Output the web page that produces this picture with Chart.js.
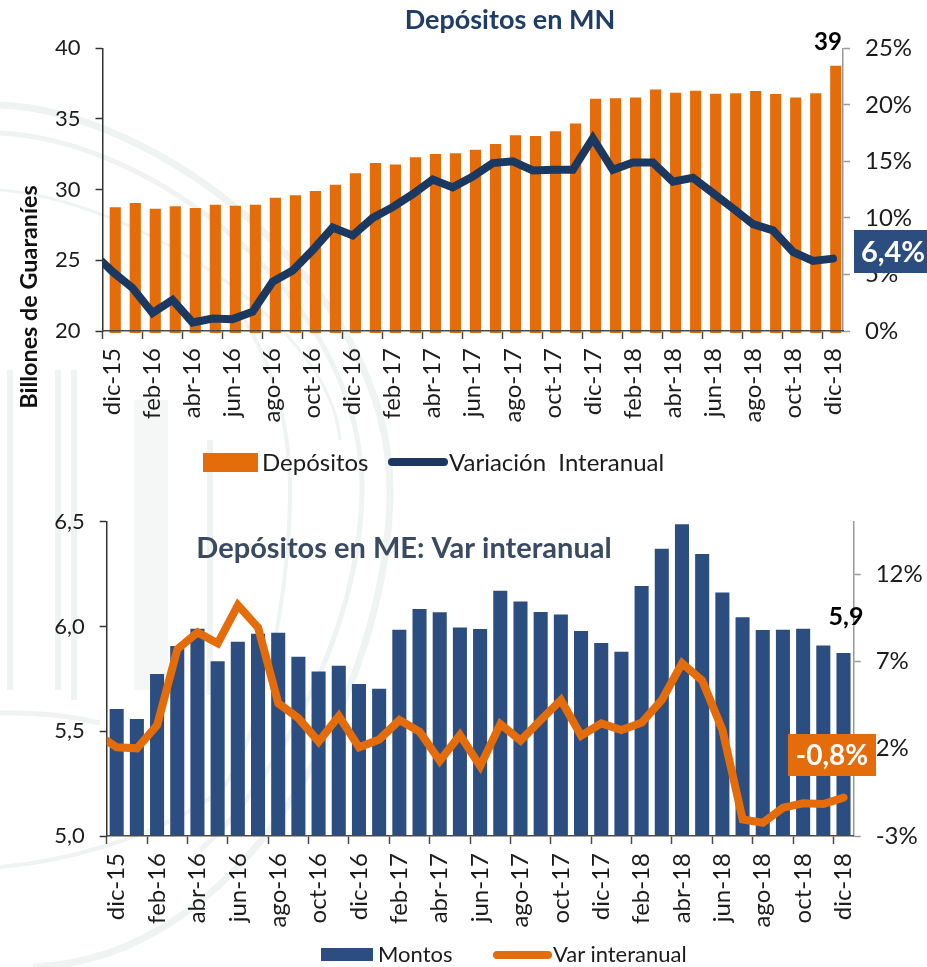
<!DOCTYPE html>
<html>
<head>
<meta charset="utf-8">
<script src="https://cdn.jsdelivr.net/npm/chart.js@4/dist/chart.umd.min.js"></script>
<style>
  html, body { margin: 0; padding: 0; background: #fff; overflow: hidden; }
  #page { position: relative; width: 927px; height: 967px; font-family: Lato, sans-serif; color: #1c1c1c; }
  #seal { position: absolute; left: 0; top: 0; }
  canvas { position: absolute; left: 0; }
  .leg { position: absolute; font-size: 24px; line-height: 28px; white-space: pre; }
  .leg.small { font-size: 22px; }
  .swatch { position: absolute; }
</style>
</head>
<body>
<div id="page">
  <svg id="seal" width="927" height="967" fill="none" stroke="#eff3f2">
    <path d="M0 105C150 110 390 280 390 490C390 680 250 960 33 967" stroke-width="7"/>
    <path d="M0 133C150 140 355 290 362 480C365 640 260 800 200 850" stroke-width="5"/>
    <path d="M0 190C130 200 330 320 340 440" stroke-width="3"/>
    <path d="M0 867C60 862 150 840 215 795C250 770 290 620 290 490C290 420 270 350 230 300" stroke-width="4"/>
    <path d="M0 713C40 712 70 716 100 723" stroke-width="5"/>
    <path d="M10 370V690M58 370V690M74 370V700M210 440V695" stroke-width="6"/>
    <path d="M151 400V690" stroke-width="34" stroke="#f5f7f6"/>
  </svg>
  <canvas id="chartMN" width="927" height="490" style="top:0"></canvas>
  <canvas id="chartME" width="927" height="477" style="top:490px"></canvas>

  <div class="swatch" style="left:203px;top:453px;width:55px;height:19px;background:#e46c0a"></div>
  <div class="leg" style="left:262px;top:448px">Depósitos</div>
  <div class="swatch" style="left:388px;top:458px;width:60px;height:8px;border-radius:4px;background:#1a3860"></div>
  <div class="leg" style="left:449px;top:448px">Variación  Interanual</div>

  <div class="swatch" style="left:321px;top:948px;width:52px;height:13px;background:#2c4d80"></div>
  <div class="leg small" style="left:378px;top:940px">Montos</div>
  <div class="swatch" style="left:493px;top:951px;width:59px;height:8px;border-radius:4px;background:#e46c0a"></div>
  <div class="leg small" style="left:553px;top:940px">Var interanual</div>
</div>

<script>
const months = [
  'dic-15', 'ene-16', 'feb-16', 'mar-16', 'abr-16', 'may-16', 'jun-16', 'jul-16', 'ago-16', 'sep-16', 'oct-16', 'nov-16',
  'dic-16', 'ene-17', 'feb-17', 'mar-17', 'abr-17', 'may-17', 'jun-17', 'jul-17', 'ago-17', 'sep-17', 'oct-17', 'nov-17',
  'dic-17', 'ene-18', 'feb-18', 'mar-18', 'abr-18', 'may-18', 'jun-18', 'jul-18', 'ago-18', 'sep-18', 'oct-18', 'nov-18',
  'dic-18'
];

// Depositos en MN
const depositosMN = [
  28.73, 29.03, 28.63, 28.8, 28.68, 28.9, 28.84, 28.9, 29.4, 29.58, 29.88, 30.33,
  31.13, 31.86, 31.75, 32.26, 32.5, 32.55, 32.8, 33.2, 33.82, 33.77, 34.1, 34.65,
  36.4, 36.44, 36.5, 37.07, 36.84, 36.98, 36.77, 36.8, 36.96, 36.75, 36.5, 36.8,
  38.75
];
const variacionMN = [
  5.25, 3.8, 1.6, 2.75, 0.75, 1.1, 1.05, 1.7, 4.35, 5.35, 7.15, 9.15,
  8.45, 10, 10.95, 12.1, 13.4, 12.7, 13.65, 14.85, 15, 14.2, 14.25, 14.25,
  17.05, 14.25, 14.9, 14.9, 13.2, 13.55, 12.2, 10.85, 9.45, 8.9, 7, 6.2,
  6.4
];
const variacionMNprev = 6.1; // the line comes in from the left edge

// Depositos en ME
const montosME = [
  5.604, 5.557, 5.771, 5.905, 5.988, 5.833, 5.926, 5.964, 5.969, 5.854, 5.783, 5.811,
  5.724, 5.701, 5.983, 6.082, 6.066, 5.993, 5.986, 6.169, 6.117, 6.067, 6.056, 5.977,
  5.919, 5.878, 6.191, 6.369, 6.486, 6.344, 6.161, 6.042, 5.981, 5.983, 5.988, 5.907,
  5.872
];
const varME = [
  2.08, 2.02, 3.35, 7.7, 8.66, 8.03, 10.22, 8.93, 4.6, 3.74, 2.4, 3.87,
  2.08, 2.53, 3.64, 2.97, 1.31, 2.78, 1.0, 3.41, 2.46, 3.64, 4.79, 2.74,
  3.45, 3.07, 3.49, 4.79, 6.89, 5.89, 3.07, -2.05, -2.24, -1.38, -1.13, -1.17,
  -0.8
];
const varMEprev = 2.46;

const ticksLeftMN = [20, 25, 30, 35, 40];
const ticksRightMN = [0, 5, 10, 15, 20, 25];
const ticksLeftME = [5, 5.5, 6, 6.5];
const ticksRightME = [-3, 2, 7, 12];

const ORANGE = '#e46c0a';
const NAVY = '#1a3860';
const BLUE = '#2c4d80';
const FONT = 'Lato, sans-serif';

const xTickValues = months.map((m, i) => i).filter(i => i % 2 === 0).map(i => i - 0.5);

function setTicks(list) {
  return scale => { scale.ticks = list.map(value => ({ value })); };
}
function setSize(prop, size) {
  return scale => { scale[prop] = size; };
}
function xyPoints(values) {
  return values.map((y, i) => ({ x: i, y }));
}
function linePoints(prev, values) {
  return [{ x: -0.5, y: prev }].concat(xyPoints(values));
}

// titles and callouts on top of the chart
function overlay(items) {
  return {
    id: 'overlay',
    afterDraw(chart) {
      const c = chart.ctx;
      c.save();
      items.forEach(it => {
        if (it.box) {
          c.fillStyle = it.box;
          c.fillRect(it.bx, it.by, it.bw, it.bh);
        }
        c.save();
        c.translate(it.x, it.y);
        if (it.rot) c.rotate(it.rot);
        c.font = it.font;
        c.fillStyle = it.color;
        c.textAlign = 'center';
        c.textBaseline = 'middle';
        c.fillText(it.text, 0, 0);
        c.restore();
      });
      c.restore();
    }
  };
}

function scalesFor(o) {
  return {
    x: {
      type: 'linear',
      offset: false,
      min: -0.5,
      max: 36.5,
      afterBuildTicks: setTicks(xTickValues),
      afterFit: setSize('height', o.xHeight),
      border: { color: '#4a4a4a', width: 1.5, z: 1 },
      grid: { offset: false, drawOnChartArea: false, drawTicks: true, tickLength: 8, tickColor: '#4a4a4a', tickWidth: 1.5 },
      ticks: {
        autoSkip: false,
        minRotation: 90,
        maxRotation: 90,
        padding: 9,
        labelOffset: 10,
        color: '#1c1c1c',
        font: { family: FONT, size: 24 },
        callback: v => months[v + 0.5]
      }
    },
    // with a fixed barThickness the value pixel is the bar's left edge, this axis lines that up
    xBar: {
      type: 'linear',
      offset: false,
      display: false,
      min: -0.5 - o.barShift,
      max: 36.5 - o.barShift
    },
    y: {
      position: 'left',
      min: o.leftTicks[0],
      max: o.leftTicks[o.leftTicks.length - 1],
      afterBuildTicks: setTicks(o.leftTicks),
      afterFit: setSize('width', o.left),
      border: { color: '#333', width: 1.5 },
      grid: { drawOnChartArea: false, tickLength: 7, tickColor: '#333', tickWidth: 1.5 },
      ticks: { padding: 15, color: '#1c1c1c', font: { family: FONT, size: 22 }, callback: o.leftFormat }
    },
    y1: {
      position: 'right',
      min: o.rightMin,
      max: o.rightMax,
      afterBuildTicks: setTicks(o.rightTicks),
      afterFit: setSize('width', o.right),
      border: { color: '#999', width: 1.5 },
      grid: { drawOnChartArea: false, tickLength: 7, tickColor: '#999', tickWidth: 1.5 },
      ticks: { padding: 15, color: '#1c1c1c', font: { family: FONT, size: 24 }, callback: v => v + '%' }
    }
  };
}

document.addEventListener('DOMContentLoaded', () => {
  // 1. Depositos en MN
  new Chart(document.getElementById('chartMN').getContext('2d'), {
    type: 'bar',
    data: {
      datasets: [
        {
          type: 'line',
          label: 'Variación  Interanual',
          data: linePoints(variacionMNprev, variacionMN),
          yAxisID: 'y1',
          xAxisID: 'x',
          borderColor: NAVY,
          borderWidth: 8,
          borderCapStyle: 'round',
          borderJoinStyle: 'miter',
          pointRadius: 0,
          tension: 0,
          order: 0
        },
        {
          label: 'Depósitos',
          data: xyPoints(depositosMN),
          yAxisID: 'y',
          xAxisID: 'xBar',
          backgroundColor: ORANGE,
          barThickness: 10.5,
          base: 19.89,
          clip: false,
          order: 1
        }
      ]
    },
    options: {
      responsive: false,
      animation: false,
      layout: { padding: { top: 48.3 } },
      plugins: { legend: { display: false }, tooltip: { enabled: false } },
      scales: scalesFor({
        xHeight: 159, left: 102.5, right: 84, barShift: -0.125,
        leftTicks: ticksLeftMN, rightTicks: ticksRightMN, rightMin: 0, rightMax: 25,
        leftFormat: v => String(v)
      })
    },
    plugins: [overlay([
      { text: 'Depósitos en MN', x: 510, y: 20, font: 'bold 27px ' + FONT, color: '#1f3d66' },
      { text: 'Billones de Guaraníes', x: 29, y: 297, rot: -Math.PI / 2, font: 'bold 23.4px ' + FONT, color: '#111' },
      { text: '39', x: 828, y: 42, font: 'bold 24px ' + FONT, color: '#000' },
      { text: '6,4%', x: 893, y: 253, font: 'bold 29px ' + FONT, color: '#fff', box: BLUE, bx: 854, by: 230, bw: 73, bh: 43 }
    ])]
  });

  // 2. Depositos en ME
  new Chart(document.getElementById('chartME').getContext('2d'), {
    type: 'bar',
    data: {
      datasets: [
        {
          type: 'line',
          label: 'Var interanual',
          data: linePoints(varMEprev, varME),
          yAxisID: 'y1',
          xAxisID: 'x',
          borderColor: ORANGE,
          borderWidth: 8,
          borderCapStyle: 'round',
          borderJoinStyle: 'miter',
          pointRadius: 0,
          tension: 0,
          order: 0
        },
        {
          label: 'Montos',
          data: xyPoints(montosME),
          yAxisID: 'y',
          xAxisID: 'xBar',
          backgroundColor: BLUE,
          barThickness: 13.4,
          order: 1
        }
      ]
    },
    options: {
      responsive: false,
      animation: false,
      layout: { padding: { top: 31.7 } },
      plugins: { legend: { display: false }, tooltip: { enabled: false } },
      scales: scalesFor({
        xHeight: 131, left: 106.7, right: 73.3, barShift: -0.337,
        leftTicks: ticksLeftME, rightTicks: ticksRightME, rightMin: -3, rightMax: 15,
        leftFormat: v => v.toFixed(1).replace('.', ',')
      })
    },
    plugins: [overlay([
      { text: 'Depósitos en ME: Var interanual', x: 404, y: 59, font: 'bold 29px ' + FONT, color: '#3a4a63' },
      { text: '5,9', x: 846, y: 127, font: 'bold 25px ' + FONT, color: '#000' },
      { text: '-0,8%', x: 832, y: 266, font: 'bold 28px ' + FONT, color: '#fff', box: ORANGE, bx: 788, by: 244, bw: 88, bh: 42 }
    ])]
  });
});
</script>
</body>
</html>
